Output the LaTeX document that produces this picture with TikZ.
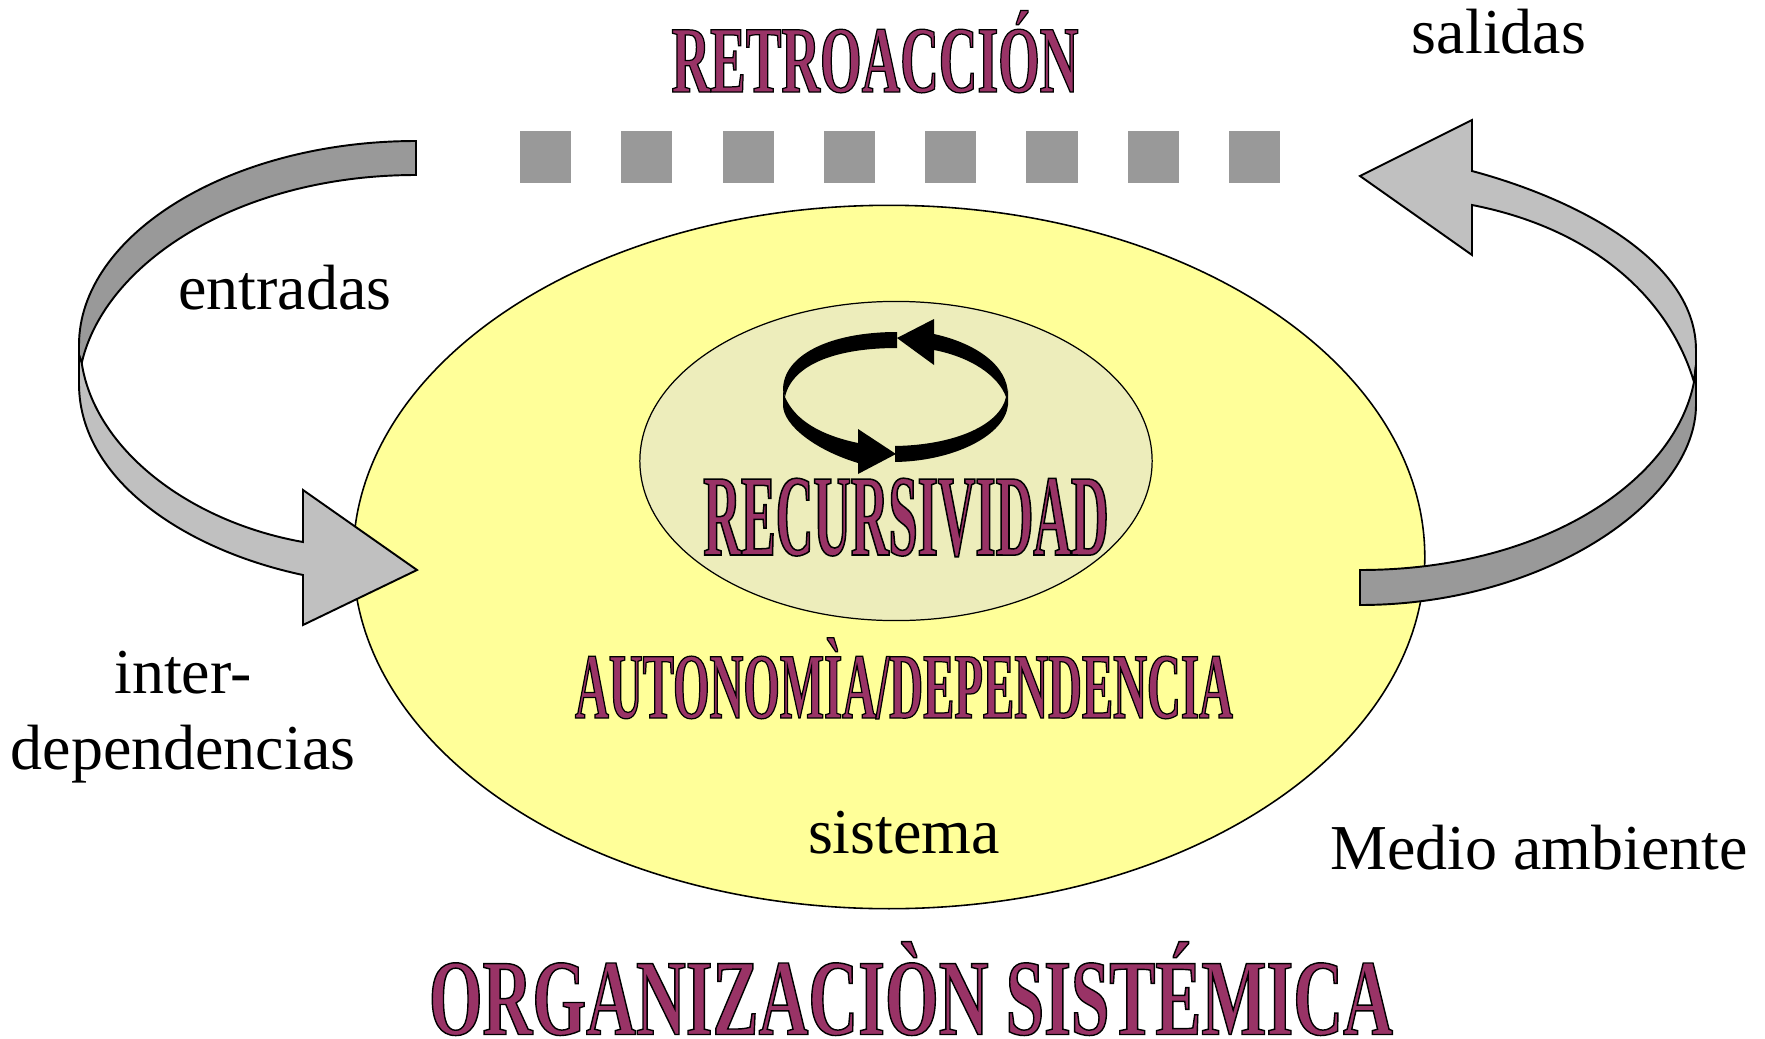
\documentclass[tikz,border=0pt]{standalone}
\usepackage{fontspec}
\setmainfont{Liberation Serif}
\usetikzlibrary{shapes.geometric}
\definecolor{amarillo}{HTML}{FFFF99}
\definecolor{crema}{HTML}{EDEDBB}
\definecolor{grisoscuro}{HTML}{999999}
\definecolor{grisclaro}{HTML}{C0C0C0}
\newcommand{\wordart}[3]{{\fontspec[FakeBold=1.3,FakeStretch=#2]{Liberation Serif Bold}%
  \fontsize{#1}{#1}\selectfont\special{pdf:bc [0.6 0.2 0.4] [0 0 0]}#3\special{pdf:ec}}}
\tikzset{
  texto/.style={anchor=base, inner sep=0pt, font=\fontsize{18.2}{21.5}\selectfont},
  titulo/.style={anchor=base, inner sep=0pt},
  cuadro/.style={fill=grisoscuro, minimum size=.51cm, inner sep=0pt},
  cinta/.style={draw=black, line width=.55pt, line join=miter},
}

\begin{document}
\begin{tikzpicture}[x=.01cm, y=-.01cm]
    \useasboundingbox (0,0) rectangle (1765,1039);
    \coordinate (a) at (889,557);
    \coordinate (b) at (896,461);
    \node[draw, ellipse, fill=amarillo, line width=.45pt, minimum width=10.71cm, minimum height=7.03cm, inner sep=0pt] (sistema) at (a) {};
    \node[draw, ellipse, fill=crema, line width=.35pt, minimum width=5.12cm, minimum height=3.19cm, inner sep=0pt] (interior) at (b) {};

    \foreach \i in {0,...,7}
      \node[cuadro] (c\i) at ({545.5+101.3*\i},157) {};

    % flecha de entradas
    \draw[cinta, fill=grisoscuro] (416,141) .. controls (230,141) and (79,235) .. (79,345) -- (79,355)
      -- (81.7,363) .. controls (105,262) and (240,175) .. (416,175) -- cycle;
    \draw[cinta, fill=grisclaro] (81.7,363) -- (79,355) -- (79,385) .. controls (80,480) and (185,550) .. (303,575)
      -- (303,625) -- (417,570) -- (303,490) -- (303,542)
      .. controls (190,522) and (95,450) .. (81.7,363) -- cycle;

    % flecha de salidas
    \draw[cinta, fill=grisclaro] (1472,171) .. controls (1580,200) and (1696,262) .. (1696,350) -- (1696,365)
      -- (1694,382) .. controls (1668,295) and (1590,228) .. (1472,205)
      -- (1472,255) -- (1360,176) -- (1472,120) -- cycle;
    \draw[cinta, fill=grisoscuro] (1694,382) -- (1696,365) -- (1696,405) .. controls (1696,500) and (1546,605) .. (1360,605)
      -- (1360,570) .. controls (1545,570) and (1675,480) .. (1694,382) -- cycle;

    % flechas negras
    \fill (897,332) .. controls (830,332) and (783,355) .. (783,390) -- (785,397)
      .. controls (792,365) and (835,348) .. (897,348) -- cycle;
    \fill (785,397) -- (783,390) -- (783,405) .. controls (783,425) and (815,450) .. (858,463)
      -- (858,474) -- (896,454) -- (858,429) -- (858,443)
      .. controls (820,435) and (795,420) .. (785,397) -- cycle;
    \fill (895,446) .. controls (955,445) and (1000,425) .. (1006,397) -- (1008,390) -- (1008,405)
      .. controls (1005,435) and (955,461) .. (895,462) -- cycle;
    \fill (934,334) .. controls (975,343) and (1008,365) .. (1008,395) -- (1006,397)
      .. controls (998,375) and (970,357) .. (934,350) -- (934,365) -- (897,338) -- (934,319) -- cycle;

    \node[texto] (entradas) at (285,309) {entradas};
    \node[texto] (salidas) at (1499,53) {salidas};
    \node[texto] (inter) at (183,693) {inter-};
    \node[texto] (dependencias) at (183,769) {dependencias};
    \node[texto] (sistematxt) at (904,853) {sistema};
    \node[texto] (medio) at (1539,869) {Medio ambiente};

    \node[titulo] (retro) at (875,92) {\wordart{27}{.563}{RETROACCIÓN}};
    \node[titulo] (recur) at (906,555) {\wordart{33}{.449}{RECURSIVIDAD}};
    \node[titulo] (auto) at (904,718) {\wordart{26.6}{.501}{AUTONOMÌA/DEPENDENCIA}};
    \node[titulo] (org) at (911,1034.5) {\wordart{30.8}{.637}{ORGANIZACIÒN SISTÉMICA}};
  \end{tikzpicture}
\end{document}
